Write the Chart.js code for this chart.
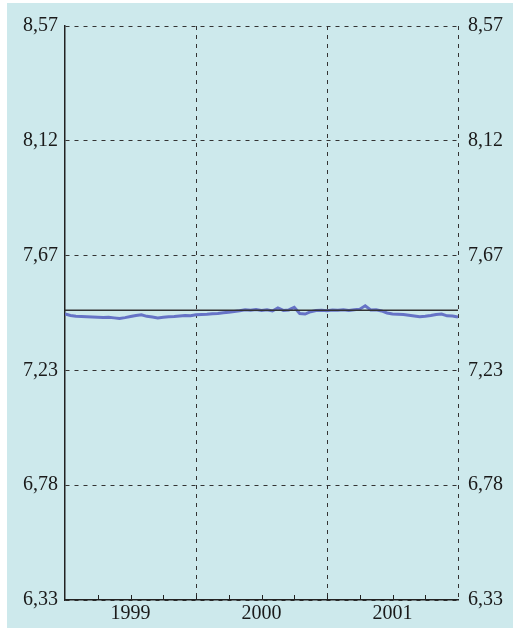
<!DOCTYPE html>
<html>
<head>
<meta charset="utf-8">
<script src="https://cdn.jsdelivr.net/npm/chart.js@4/dist/chart.umd.min.js"></script>
<style>
html,body{margin:0;padding:0;background:#fff;}
#contenedor{width:516px;height:629px;position:relative;}
</style>
</head>
<body>
<div id="contenedor"><canvas id="grafica"></canvas></div>
<script>
// meses desde enero 1999, cada medio mes
var meses = [0,0.5,1,1.5,2,2.5,3,3.5,4,4.5,5,5.5,6,6.5,7,7.5,8,8.5,9,9.5,10,10.5,11,11.5,
	12,12.5,13,13.5,14,14.5,15,15.5,16,16.5,17,17.5,18,18.5,19,19.5,20,20.5,21,21.5,22,22.5,23,23.5,
	24,24.5,25,25.5,26,26.5,27,27.5,28,28.5,29,29.5,30,30.5,31,31.5,32,32.5,33,33.5,34,34.5,35,35.5,36];
var cambio = [7.446,7.440,7.437,7.436,7.435,7.434,7.433,7.432,7.433,7.431,7.429,7.432,7.436,7.440,7.443,7.437,7.434,7.431,7.433,7.435,7.436,7.438,7.440,7.439,
	7.443,7.444,7.445,7.447,7.448,7.451,7.453,7.456,7.459,7.463,7.461,7.464,7.460,7.463,7.458,7.470,7.460,7.462,7.472,7.448,7.446,7.455,7.460,7.461,
	7.459,7.462,7.461,7.463,7.460,7.463,7.465,7.478,7.462,7.463,7.458,7.450,7.446,7.445,7.444,7.441,7.438,7.435,7.437,7.440,7.444,7.446,7.439,7.438,7.434];
var tasaCentral = 7.46038;
var ticksY = [6.33,6.778,7.226,7.674,8.122,8.57];
var anios = {6:'1999',18:'2000',30:'2001'};
var lineasAnio = [12,24,36];

var fondo = {
	id:'fondo',
	beforeDraw:function(chart){
		var ctx = chart.ctx;
		ctx.save();
		ctx.fillStyle = '#cde9ec';
		ctx.fillRect(7,3,506,625);
		ctx.restore();
	}
};

var marcas = {
	id:'marcas',
	afterDatasetsDraw:function(chart){
		var ctx = chart.ctx;
		var x = chart.scales.x;
		var abajo = chart.chartArea.bottom;
		ctx.save();
		ctx.strokeStyle = '#222';
		ctx.lineWidth = 1;
		for (var m = 3; m < 36; m += 3) {
			var px = Math.round(x.getPixelForValue(m)) + 0.5;
			ctx.beginPath();
			ctx.moveTo(px, abajo);
			ctx.lineTo(px, abajo - 5);
			ctx.stroke();
		}
		ctx.restore();
	}
};

function etiquetaY(v){
	return v.toFixed(2).replace('.',',');
}

function ponerTicksY(scale){
	scale.ticks = ticksY.map(function(v){ return {value:v}; });
}

var fuente = {family:'"Liberation Serif", "DejaVu Serif", serif', size:20};

new Chart(document.getElementById('grafica'), {
	type:'line',
	data:{
		datasets:[{
			data:[{x:0,y:tasaCentral},{x:36,y:tasaCentral}],
			borderColor:'#333',
			borderWidth:1.5,
			pointRadius:0,
			order:0
		},{
			data:meses.map(function(m,i){ return {x:m,y:cambio[i]}; }),
			borderColor:'#6673c6',
			borderWidth:3,
			pointRadius:0,
			tension:0,
			order:1
		}]
	},
	options:{
		responsive:true,
		maintainAspectRatio:false,
		animation:false,
		layout:{padding:{top:26,right:0,bottom:0,left:0}},
		plugins:{legend:{display:false},tooltip:{enabled:false}},
		scales:{
			x:{
				type:'linear',
				min:0,
				max:36,
				afterFit:function(s){ s.height = 29; },
				ticks:{
					stepSize:3,
					autoSkip:false,
					maxRotation:0,
					padding:2,
					color:'#1a1a1a',
					font:fuente,
					callback:function(v){ return anios[v] || ''; }
				},
				grid:{
					drawTicks:false,
					lineWidth:1,
					color:function(c){
						return (c.tick && lineasAnio.indexOf(c.tick.value) >= 0) ? '#333' : 'rgba(0,0,0,0)';
					}
				},
				border:{display:true,color:'#222',width:1.5,dash:[4,5]}
			},
			y:{
				position:'left',
				min:6.33,
				max:8.57,
				afterBuildTicks:ponerTicksY,
				afterFit:function(s){ s.width = 65; },
				ticks:{
					padding:7,
					color:'#1a1a1a',
					font:fuente,
					callback:etiquetaY
				},
				grid:{drawTicks:false,color:'#333',lineWidth:1},
				border:{display:true,color:'#222',width:1.5,dash:[4,5]}
			},
			y2:{
				position:'right',
				min:6.33,
				max:8.57,
				afterBuildTicks:ponerTicksY,
				afterFit:function(s){ s.width = 58; },
				ticks:{
					padding:10,
					color:'#1a1a1a',
					font:fuente,
					callback:etiquetaY
				},
				grid:{display:false,drawTicks:false},
				border:{display:false}
			}
		}
	},
	plugins:[fondo,marcas]
});
</script>
</body>
</html>
